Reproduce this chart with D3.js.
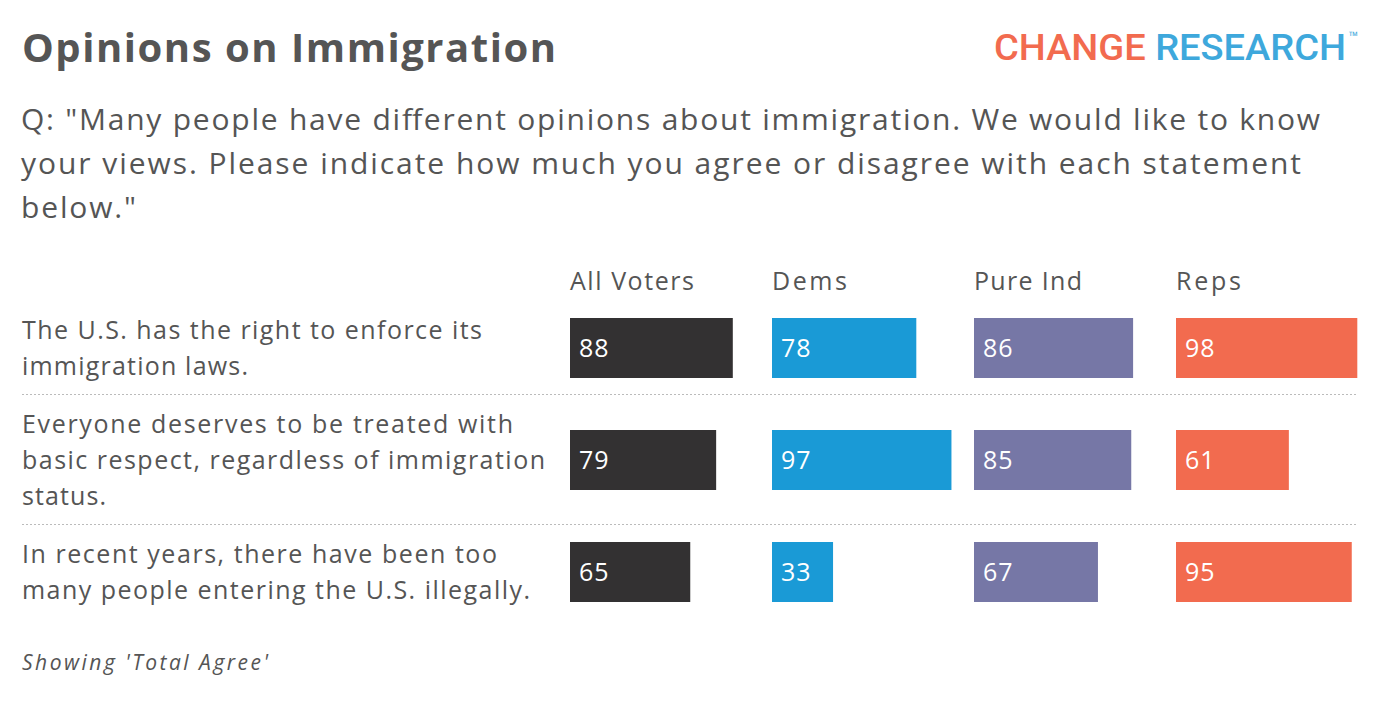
<!DOCTYPE html>
<html><head><meta charset="utf-8">
<script src="https://cdn.jsdelivr.net/npm/d3@7.9.0/dist/d3.min.js"></script>
<style>body{margin:0;background:#fff}svg{display:block}</style>
</head><body><svg id="chart" width="1380" height="714"></svg>
<script>
const groups = ["All Voters", "Dems", "Pure Ind", "Reps"];
const groupColors = ["#333132", "#1a9ad6", "#7677a6", "#f26b4f"];
const statements = [
  ["The U.S. has the right to enforce its", "immigration laws."],
  ["Everyone deserves to be treated with", "basic respect, regardless of immigration", "status."],
  ["In recent years, there have been too", "many people entering the U.S. illegally."]
];
const allVoters = [88, 79, 65];
const dems = [78, 97, 33];
const pureInd = [86, 85, 67];
const reps = [98, 61, 95];
const series = [allVoters, dems, pureInd, reps];

const svg = d3.select('#chart');
const font = "'Open Sans', Lato, sans-serif";

// stretch text to a target width by letter spacing, to mimic the wider original face
function fit(sel, width) {
  sel.attr('textLength', width).attr('lengthAdjust', 'spacing');
  return sel;
}

fit(svg.append('text').attr('x', 22).attr('y', 62).attr('font-family', font)
  .attr('font-weight', 700).attr('font-size', 40).attr('fill', '#555').text('Opinions on Immigration'), 534);

// logo
const logo = svg.append('text').attr('x', 1346).attr('y', 60).attr('text-anchor', 'end')
  .attr('font-family', "'Roboto', sans-serif").attr('font-weight', 500).attr('font-size', 36)
  .attr('textLength', 352).attr('lengthAdjust', 'spacingAndGlyphs');
logo.append('tspan').attr('fill', '#f26b4f').text('CHANGE ');
logo.append('tspan').attr('fill', '#3ea8dc').text('RESEARCH');
svg.append('text').attr('x', 1349).attr('y', 40).attr('font-family', font).attr('font-size', 12)
  .attr('fill', '#3ea8dc').text('™');

const sub = ['Q: "Many people have different opinions about immigration. We would like to know',
  'your views. Please indicate how much you agree or disagree with each statement', 'below."'];
const subW = [1299, 1280, 115];
sub.forEach((s, i) => fit(svg.append('text').attr('x', 21).attr('y', 130 + i * 44)
  .attr('font-family', font).attr('font-size', 30).attr('fill', '#555').text(s), subW[i]));

const x = d3.scaleBand().domain(groups).range([570, 1378]).paddingInner(0).align(0);
const w = d3.scaleLinear().domain([0, 100]).range([0, 185]);
const y = d3.scaleBand().domain(d3.range(statements.length)).range([318, 654]).paddingInner(0);

const headW = [124, 75, 108, 65];
groups.forEach((g, i) => fit(svg.append('text').attr('x', x(g)).attr('y', 290).attr('font-family', font)
  .attr('font-size', 25).attr('fill', '#555').text(g), headW[i]));

const labelW = [[460, 226], [491, 523, 84], [475, 508]];
statements.forEach((lines, r) => {
  const top = y(r);
  const mid = top + 30;
  const start = mid - (lines.length - 1) * 18;
  let last = 0;
  lines.forEach((l, i) => {
    last = start + i * 36 + 9;
    fit(svg.append('text').attr('x', 22).attr('y', last)
      .attr('font-family', font).attr('font-size', 25).attr('fill', '#555').text(l), labelW[r][i]);
  });
  series.forEach((vals, gi) => {
    const gx = x(groups[gi]);
    svg.append('rect').attr('x', gx).attr('y', top).attr('width', w(vals[r])).attr('height', 60)
      .attr('fill', groupColors[gi]);
    svg.append('text').attr('x', gx + 9).attr('y', mid + 9).attr('font-family', font)
      .attr('font-size', 25).attr('fill', '#fff').attr('letter-spacing', 1).text(vals[r]);
  });
  if (r < statements.length - 1) {
    const sy = Math.max(top + 60, last + 3) + 16.5;
    svg.append('line').attr('x1', 22).attr('x2', 1358).attr('y1', sy).attr('y2', sy)
      .attr('stroke', '#bbb').attr('stroke-dasharray', '2,2');
  }
});

fit(svg.append('text').attr('x', 22).attr('y', 670).attr('font-family', font).attr('font-style', 'italic')
  .attr('font-size', 21).attr('fill', '#555').text("Showing 'Total Agree'"), 246);
</script></body></html>
